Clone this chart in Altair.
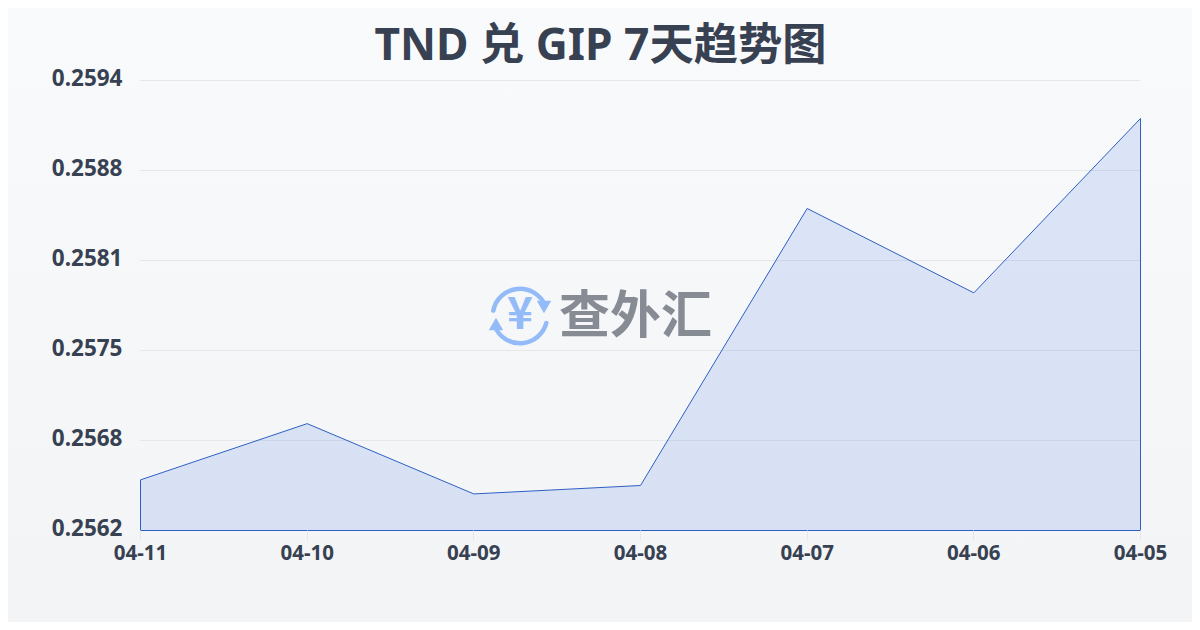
import altair as alt
import pandas as pd

dates = ["04-11", "04-10", "04-09", "04-08", "04-07", "04-06", "04-05"]
rates = [0.25656, 0.25696, 0.25646, 0.25652, 0.25849, 0.25789, 0.25913]
y_ticks = [0.2562, 0.25684, 0.25748, 0.25812, 0.25876, 0.2594]
y_floor = 0.2562
title_text = "TND 兑 GIP 7天趋势图"
watermark_text = "查外汇"
logo_symbol = "¥"
FONT = "Noto Sans, Noto Sans CJK SC"
WM_FONT = "Noto Sans CJK SC"

df = pd.DataFrame({"date": dates, "rate": rates, "floor": [y_floor] * len(dates)})
grid_df = pd.DataFrame({"tick": y_ticks})
one = pd.DataFrame({"a": [0]})

W, H = 1000, 450
PL, PT = 132, 72
PR, PB = 1184 - PL - W, 614 - PT - H

bg = alt.Chart(one).mark_rect(
    color=alt.Gradient(
        gradient="linear", x1=0, y1=0, x2=0, y2=1,
        stops=[alt.GradientStop(color="#f8fafc", offset=0),
               alt.GradientStop(color="#f3f4f6", offset=1)],
    )
).encode(x=alt.value(-PL), x2=alt.value(W + PR), y=alt.value(-PT), y2=alt.value(H + PB))

yscale = alt.Scale(domain=[0.2562, 0.2594], nice=False, zero=False)
yaxis = alt.Axis(title=None, values=y_ticks, format=".4f", labelFont=FONT, zindex=1,
                 labelFontWeight="bold", labelFontSize=22.5, labelColor="#374151",
                 labelPadding=18, labelOffset=-2, ticks=False, domain=False, grid=False)

grid = alt.Chart(grid_df).mark_rule(color="#e5e7eb", strokeWidth=1, yOffset=0.5).encode(
    y=alt.Y("tick:Q", scale=yscale, axis=yaxis), x=alt.value(0), x2=alt.value(W)
)

xs = alt.X("date:N", sort=dates, scale=alt.Scale(type="point", padding=0),
           axis=alt.Axis(title=None, labelAngle=0, labelFont=FONT, labelFontWeight="bold",
                         labelFontSize=20.5, labelColor="#374151", labelPadding=3, zindex=1,
                         tickSize=10, tickColor="#e5e7eb", domain=False, grid=False))
ys = alt.Y("rate:Q", scale=yscale, axis=yaxis)

area = alt.Chart(df).mark_area(
    fill="#225ce0", fillOpacity=0.13, stroke="#2f5fc4", strokeWidth=1, line=False,
    xOffset=0.5, yOffset=0.5, y2Offset=0.5
).encode(x=xs, y=ys, y2="floor:Q")

title = alt.Chart(one).mark_text(
    text=title_text, font=FONT, fontWeight="bold", fontSize=44.3, color="#374151",
    align="center", baseline="middle"
).encode(x=alt.value(460.5), y=alt.value(-33))

wm = alt.Chart(one).mark_text(
    text=watermark_text, font=WM_FONT, fontWeight="bold", fontSize=51, color="#868b94",
    align="left", baseline="middle"
).encode(x=alt.value(419), y=alt.value(238))

sym = alt.Chart(one).mark_text(
    text=logo_symbol, font=WM_FONT, fontWeight="bold", fontSize=44, color="#93bbf8",
    align="center", baseline="middle"
).encode(x=alt.value(380), y=alt.value(236))

arc1 = alt.Chart(one).mark_arc(
    innerRadius=25, outerRadius=29.5, theta=4.83, theta2=7.53, color="#93bbf8", cornerRadius=2
).encode(x=alt.value(380), y=alt.value(236))
arc2 = alt.Chart(one).mark_arc(
    innerRadius=25, outerRadius=29.5, theta=1.75, theta2=4.4, color="#93bbf8", cornerRadius=2
).encode(x=alt.value(380), y=alt.value(236))
tri1 = alt.Chart(one).mark_point(
    shape="triangle-down", size=210, filled=True, color="#93bbf8", opacity=1
).encode(x=alt.value(404), y=alt.value(227))
tri2 = alt.Chart(one).mark_point(
    shape="triangle-up", size=210, filled=True, color="#93bbf8", opacity=1
).encode(x=alt.value(356), y=alt.value(244))

chart = alt.layer(bg, grid, area, wm, arc1, arc2, tri1, tri2, sym, title).properties(
    width=W, height=H,
    autosize=alt.AutoSizeParams(type="none"),
    padding={"left": PL, "top": PT, "right": PR, "bottom": PB},
    background="#f8fafc",
).configure_view(stroke=None)

chart.save("out.html", embed_options={"renderer": "svg", "actions": False})
